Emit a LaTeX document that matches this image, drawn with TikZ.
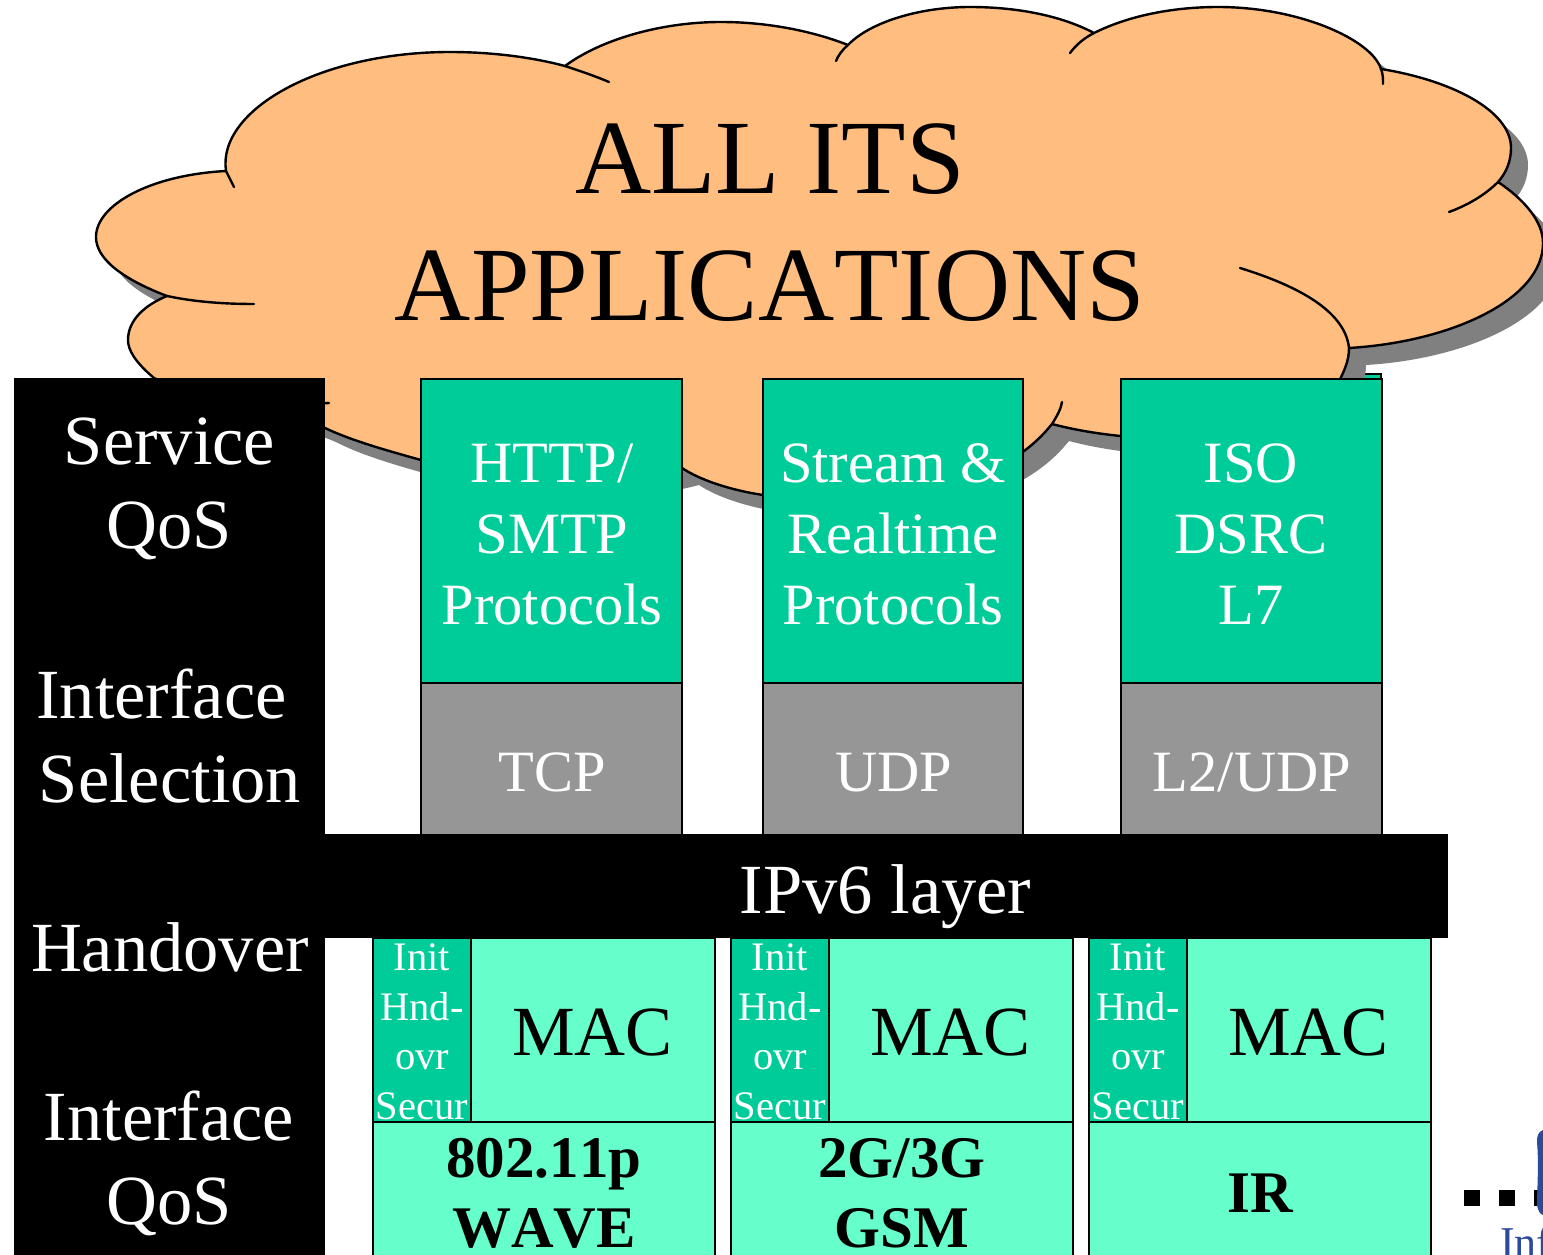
\documentclass[tikz,border=0pt]{standalone}
\usepackage{fontspec}
\setmainfont[Kerning=Off]{Liberation Serif}
\definecolor{cloudfill}{HTML}{FFBD7F}
\definecolor{cloudshadow}{HTML}{808080}
\definecolor{teal}{HTML}{00CC99}
\definecolor{midgrey}{HTML}{969696}
\definecolor{aqua}{HTML}{66FFCC}
\definecolor{logoblue}{HTML}{2B4A9B}
\newcommand{\fs}[2]{\fontsize{#1}{#2}\selectfont}
\tikzset{
  x=1pt,y=-1pt,
  cloudedge/.style={line width=2.4pt,line cap=round,line join=round},
  boxn/.style={draw=black,line width=2.4pt,inner sep=0pt,outer sep=0pt,anchor=north west},
  txt/.style={inner sep=0pt,outer sep=0pt,anchor=base,align=center},
  dotn/.style={fill=black,inner sep=0pt,outer sep=0pt,minimum size=16pt,anchor=north west},
}
\begin{document}
\begin{tikzpicture}
\useasboundingbox (0,0) rectangle (1543,1255);
\clip (0,0) rectangle (1543,1255);
\def\cloudpath{
 (226,171) .. controls (217,110) and (320,52) .. (450,52)
 .. controls (495,52) and (535,58) .. (565,66)
 .. controls (600,40) and (660,22) .. (721,22)
 .. controls (770,22) and (815,32) .. (848,45)
 .. controls (870,22) and (920,7) .. (970,7)
 .. controls (1015,7) and (1060,15) .. (1094,33)
 .. controls (1130,15) and (1175,7) .. (1218,7)
 .. controls (1300,7) and (1372,40) .. (1381,69)
 .. controls (1450,80) and (1511,110) .. (1511,148)
 .. controls (1511,160) and (1507,172) .. (1498,182)
 .. controls (1525,200) and (1543,222) .. (1543,243)
 .. controls (1543,300) and (1450,342) .. (1349,348)
 .. controls (1349,360) and (1345,370) .. (1337,385)
 .. controls (1320,420) and (1250,440) .. (1180,440)
 .. controls (1130,438) and (1090,434) .. (1052,424)
 .. controls (1035,445) and (1000,480) .. (900,498)
 .. controls (850,505) and (790,502) .. (763,495)
 .. controls (730,490) and (700,480) .. (682,468)
 .. controls (600,490) and (500,480) .. (421,460)
 .. controls (385,450) and (350,440) .. (325,428)
 .. controls (280,405) and (200,400) .. (154,378)
 .. controls (135,362) and (128,350) .. (128,340)
 .. controls (128,320) and (145,305) .. (167,296)
 .. controls (125,280) and (96,260) .. (96,237)
 .. controls (96,205) and (150,175) .. (226,171) -- cycle}
% box behind the cloud
\fill[teal,draw=black,line width=2.4pt] (1300,374) rectangle (1381,420);
% cloud
\begin{scope}[shift={(17,17)}]
\fill[cloudshadow] \cloudpath;
\end{scope}
\filldraw[fill=cloudfill,draw=black,cloudedge] \cloudpath;
\draw[cloudedge] (226,171) -- (234,187);
\draw[cloudedge] (565,66) .. controls (580,71) and (595,76) .. (609,82);
\draw[cloudedge] (848,45) .. controls (842,50) and (838,56) .. (836,61);
\draw[cloudedge] (1094,33) .. controls (1084,38) and (1076,45) .. (1070,53);
\draw[cloudedge] (1381,69) .. controls (1383,74) and (1383,79) .. (1383,84);
\draw[cloudedge] (1498,182) .. controls (1485,195) and (1468,205) .. (1449,212);
\draw[cloudedge] (1349,348) .. controls (1345,310) and (1295,285) .. (1240,268);
\draw[cloudedge] (1052,424) .. controls (1057,416) and (1061,409) .. (1062,402);
\draw[cloudedge] (167,296) .. controls (195,302) and (225,304) .. (254,304);
\draw[cloudedge] (300,405) -- (329,403);
\node[txt,font=\fs{105.5}{127}] (title) at (770,320) {ALL ITS\\APPLICATIONS};
% upper stacks
\node[boxn,fill=teal,minimum width=261pt,minimum height=304pt] (http) at (421,379) {};
\node[boxn,fill=teal,minimum width=260pt,minimum height=304pt] (stream) at (763,379) {};
\node[boxn,fill=teal,minimum width=261pt,minimum height=304pt] (iso) at (1121,379) {};
\node[boxn,fill=midgrey,minimum width=261pt,minimum height=152pt] (tcp) at (421,683) {};
\node[boxn,fill=midgrey,minimum width=260pt,minimum height=152pt] (udp) at (763,683) {};
\node[boxn,fill=midgrey,minimum width=261pt,minimum height=152pt] (l2) at (1121,683) {};
\begin{scope}[every node/.append style={text=white,font=\fs{58.5}{71}}]
\node[txt] (httpT) at (552,624) {HTTP/\\SMTP\\Protocols};
\node[txt] (streamT) at (893,624) {Stream \&\\Realtime\\Protocols};
\node[txt] (isoT) at (1251,624) {ISO\\DSRC\\L7};
\node[txt] (tcpT) at (552,791) {TCP};
\node[txt] (udpT) at (894,791) {UDP};
\node[txt] (l2T) at (1252,791) {L2/UDP};
\end{scope}
% left black column and IPv6 bar
\node[boxn,fill=black,draw=none,minimum width=311pt,minimum height=880pt] (left) at (14,378) {};
\node[boxn,fill=black,draw=none,minimum width=1123pt,minimum height=104pt] (ipv6) at (325,834) {};
\begin{scope}[every node/.append style={text=white,font=\fs{70.5}{84}}]
\node[txt] (svc) at (169.5,548) {Service\\QoS};
\node[txt] (sel) at (170,802) {Interface\hspace*{17pt}\\Selection};
\node[txt] (hand) at (170,971) {Handover};
\node[txt] (iqos) at (169,1224) {Interface\\QoS};
\node[txt] (ipT) at (885.5,913) {IPv6 layer};
\end{scope}
% lower stacks
\foreach \nm/\x/\phy/\py/\l/\mx in {a/373/{802.11p\\WAVE}/1247/544/592.5,b/731/{2G/3G\\GSM}/1247/902/950.5,c/1089/{IR}/1212/1260/1308.5}{
  \node[boxn,fill=aqua,minimum width=342pt,minimum height=184pt] (mac\nm) at (\x,938) {};
  \node[boxn,fill=aqua,minimum width=342pt,minimum height=140pt] (phy\nm) at (\x,1122) {};
  \node[boxn,fill=teal,minimum width=98pt,minimum height=184pt] (init\nm) at (\x,938) {};
  \node[txt,text=white,font=\fs{40.5}{49.5}] (initT\nm) at ([xshift=0pt]init\nm.north |- 0,1119) {Init\\Hnd-\\ovr\\Secur};
  \node[txt,font=\fs{70.5}{84}] (macT\nm) at (\mx,1055) {MAC};
  \node[txt,font=\bfseries\fs{59}{70}] (phyT\nm) at (\l,\py) {\phy};
}
% dotted line and cut-off logo
\node[dotn] (d1) at (1464,1190) {};
\node[dotn] (d2) at (1499,1190) {};
\node[dotn] (d3) at (1534,1190) {};
\fill[logoblue] (1543,1130) .. controls (1538,1132) and (1537,1136) .. (1537,1142)
  .. controls (1539,1165) and (1537,1190) .. (1537,1205)
  .. controls (1538,1211) and (1540,1214) .. (1543,1215) -- cycle;
\node[txt,anchor=base west,text=logoblue,font=\fs{44}{50}] (inf) at (1500,1257) {Inf};
\end{tikzpicture}
\end{document}
